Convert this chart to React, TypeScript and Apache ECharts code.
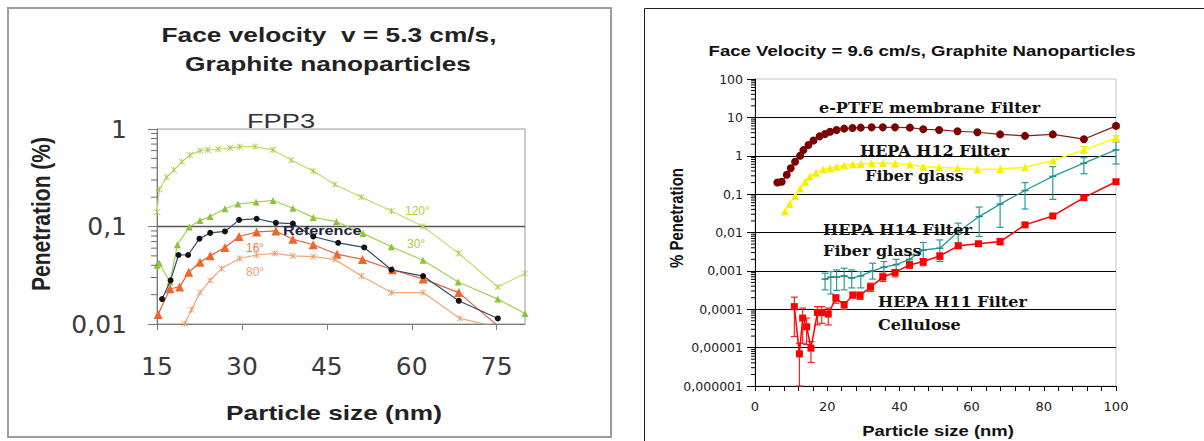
import React, { useEffect, useRef } from "react";
import * as echarts from "echarts";

// ---------- Left chart data (FPP3, 5.3 cm/s) ----------
const deg120Size = [15.0, 15.4, 16.7, 18.0, 19.4, 20.8, 22.6, 24.0, 25.8, 27.9, 29.6, 32.3, 35.5, 38.7, 42.6, 46.4, 51.1, 56.4, 62.0, 68.3, 75.2, 80.0];
const deg120Pen = [0.14, 0.24, 0.32, 0.38, 0.46, 0.54, 0.6, 0.61, 0.62, 0.64, 0.66, 0.66, 0.61, 0.48, 0.37, 0.27, 0.2, 0.144, 0.1, 0.053, 0.024, 0.033];

const deg30Size = [15.0, 15.4, 17.3, 18.6, 20.7, 22.6, 24.4, 27.0, 29.3, 32.5, 35.5, 39.0, 42.6, 46.7, 51.4, 56.4, 62.0, 68.2, 75.2, 80.0];
const deg30Pen = [0.04, 0.042, 0.027, 0.065, 0.099, 0.115, 0.127, 0.152, 0.17, 0.178, 0.185, 0.154, 0.124, 0.112, 0.085, 0.062, 0.045, 0.027, 0.018, 0.0128];

const refSize = [15.9, 17.4, 18.8, 20.5, 22.5, 24.4, 27.0, 29.5, 32.6, 36.0, 39.0, 42.6, 47.0, 51.6, 56.4, 62.0, 68.3, 75.2];
const refPen = [0.018, 0.028, 0.051, 0.051, 0.075, 0.086, 0.089, 0.117, 0.12, 0.109, 0.107, 0.079, 0.068, 0.061, 0.036, 0.031, 0.0173, 0.0114];

const deg16Size = [15.2, 17.3, 19.0, 20.6, 22.6, 24.4, 27.0, 29.5, 32.6, 36.0, 39.0, 42.6, 46.8, 51.3, 56.6, 62.0, 68.3, 75.0];
const deg16Pen = [0.0125, 0.023, 0.024, 0.034, 0.043, 0.05, 0.061, 0.079, 0.088, 0.09, 0.074, 0.065, 0.052, 0.046, 0.036, 0.029, 0.021, 0.0098];

const deg80Size = [19.9, 21.1, 22.6, 24.4, 26.4, 29.6, 32.6, 35.8, 39.0, 42.6, 46.4, 51.1, 56.4, 62.0, 68.5, 74.4];
const deg80Pen = [0.0101, 0.014, 0.021, 0.028, 0.037, 0.047, 0.051, 0.053, 0.05, 0.049, 0.046, 0.031, 0.021, 0.021, 0.0114, 0.0095];

const leftXTicks = { min: 15, max: 80, step: 15 };
const leftYRange = { min: 0.01, max: 1 };
const leftDecades = [0.01, 0.1];

// ---------- Right chart data (9.6 cm/s) ----------
const ptfeSize = [6.2, 7.4, 8.8, 9.9, 11.1, 12.5, 13.4, 14.8, 16.2, 17.9, 19.4, 20.8, 22.6, 24.7, 27.0, 29.3, 32.3, 35.4, 38.8, 42.9, 46.6, 51.0, 56.1, 61.6, 67.9, 74.8, 82.5, 91.1, 100];
const ptfePen = [0.2, 0.21, 0.32, 0.47, 0.7, 1.0, 1.4, 1.9, 2.5, 3.2, 3.7, 4.2, 4.7, 5.1, 5.3, 5.4, 5.5, 5.5, 5.5, 5.4, 4.9, 4.7, 4.35, 4.1, 3.6, 3.3, 3.6, 2.7, 6.0];
const ptfeErrSize = [100];
const ptfeErrLow = [5.3];
const ptfeErrHigh = [6.7];

const h12Size = [8.3, 9.6, 11.1, 12.5, 13.9, 15.2, 16.9, 18.9, 20.8, 22.6, 24.7, 27.1, 29.3, 32.3, 35.4, 38.8, 42.9, 46.6, 51.0, 56.1, 61.6, 67.9, 74.8, 82.5, 91.1, 100];
const h12Pen = [0.035, 0.055, 0.09, 0.14, 0.21, 0.29, 0.36, 0.44, 0.47, 0.52, 0.56, 0.59, 0.61, 0.64, 0.64, 0.63, 0.59, 0.52, 0.5, 0.47, 0.44, 0.45, 0.5, 0.75, 1.42, 2.86];
const h12ErrSize = [91.1, 100];
const h12ErrLow = [1.2, 2.5];
const h12ErrHigh = [1.75, 3.3];

const h14Size = [19.4, 21.0, 22.6, 24.7, 26.8, 29.3, 32.6, 35.7, 39.1, 42.8, 46.6, 51.2, 56.3, 62.1, 67.9, 74.8, 82.5, 91.1, 100];
const h14Pen = [6.1e-4, 6.9e-4, 6.9e-4, 7.4e-4, 6.5e-4, 7.4e-4, 1.0e-3, 1.25e-3, 1.46e-3, 2.0e-3, 3.5e-3, 3.9e-3, 0.0105, 0.026, 0.055, 0.124, 0.29, 0.64, 1.42];
const h14High = [8.7e-4, 9.6e-4, 1.06e-3, 1.17e-3, 1.06e-3, 9.6e-4, 1.58e-3, 1.75e-3, 2.0e-3, 2.6e-3, 5.5e-3, 6.4e-3, 0.0175, 0.046, 0.09, 0.2, 0.52, 0.89, 2.3];
const h14Low = [3.2e-4, 2.5e-4, 3.1e-4, 3.2e-4, 3.6e-4, 3.6e-4, 6.1e-4, 7.9e-4, 9.6e-4, 1.43e-3, 2.0e-3, 1.75e-3, 5.3e-3, 7.9e-3, 0.0137, 0.041, 0.073, 0.34, 0.61];

const h11Size = [10.9, 12.3, 13.2, 14.3, 15.5, 17.3, 18.5, 20.3, 22.4, 24.7, 27.1, 29.1, 32.0, 35.4, 38.8, 42.8, 46.6, 51.2, 56.3, 61.9, 67.9, 74.8, 82.5, 91.1, 100];
const h11Pen = [1.17e-4, 6.9e-6, 5.9e-5, 3.5e-5, 9.7e-6, 8.2e-5, 8.2e-5, 7.5e-5, 1.95e-4, 1.3e-4, 2.37e-4, 2.3e-4, 3.77e-4, 6.9e-4, 9.1e-4, 1.43e-3, 1.75e-3, 2.45e-3, 4.5e-3, 5.1e-3, 5.8e-3, 0.0158, 0.027, 0.081, 0.21];
const h11High = [2.07e-4, 1.3e-5, 1.07e-4, 5.9e-5, 1.44e-5, 1.17e-4, 1.17e-4, 1.07e-4, 2.37e-4, 1.58e-4, 2.72e-4, 2.8e-4, 4.8e-4, 8.7e-4, 1.06e-3, 1.75e-3, 2.1e-3, 2.9e-3, 5.2e-3, 5.8e-3, 7.0e-3, 0.018, 0.03, 0.092, 0.24];
const h11Low = [1.95e-5, 1.0e-6, 1.3e-5, 1.2e-5, 4.1e-6, 3.9e-5, 4.3e-5, 3.9e-5, 1.44e-4, 1.0e-4, 1.95e-4, 1.8e-4, 2.9e-4, 5.3e-4, 7.0e-4, 1.17e-3, 1.37e-3, 2.0e-3, 3.9e-3, 4.5e-3, 4.8e-3, 0.014, 0.024, 0.071, 0.185];

const rightXTicks = { min: 0, max: 100, step: 20 };
const rightYRange = { min: 1e-6, max: 100 };
const rightDecades = [1e-6, 1e-5, 1e-4, 1e-3, 1e-2, 1e-1, 1, 10];
const minorMultipliers = [2, 3, 4, 5, 6, 7, 8, 9];

// ---------- helpers ----------
const zip = (xs: number[], ys: number[]) => xs.map((x, i) => [x, ys[i]]);
const zip3 = (xs: number[], lo: number[], hi: number[]) => xs.map((x, i) => [x, lo[i], hi[i]]);
const minorTicks = (decades: number[], xAt: number) => {
  const out: number[][] = [];
  decades.forEach((d) => minorMultipliers.forEach((m) => out.push([xAt, +(d * m).toPrecision(3)])));
  return out;
};
const fmtComma = (v: number) => {
  if (v >= 1) return String(Math.round(v));
  const d = Math.round(-Math.log10(v));
  return v.toFixed(d).replace(".", ",");
};

const errorBar = (color: string) => (params: any, api: any) => {
  const x = api.value(0);
  const lo = api.value(1);
  const hi = api.value(2);
  const pHi = api.coord([x, hi]);
  const pLo = api.coord([x, lo]);
  const w = 3.5;
  const st = { stroke: color, lineWidth: 1.2 };
  return {
    type: "group",
    children: [
      { type: "line", shape: { x1: pHi[0], y1: pHi[1], x2: pLo[0], y2: pLo[1] }, style: st },
      { type: "line", shape: { x1: pHi[0] - w, y1: pHi[1], x2: pHi[0] + w, y2: pHi[1] }, style: st },
      { type: "line", shape: { x1: pLo[0] - w, y1: pLo[1], x2: pLo[0] + w, y2: pLo[1] }, style: st },
    ],
  };
};

const CROSS = "path://M0,0L10,10M10,0L0,10M5,0L5,10";
const SANS = "Arial, 'Liberation Sans', sans-serif";
const WIDE = "'DejaVu Sans', Arial, sans-serif";

export default function App() {
  const ref = useRef<HTMLDivElement>(null);
  useEffect(() => {
    if (!ref.current) return;
    const chart = echarts.init(ref.current, null, { renderer: "svg" });
    const serif = "'DejaVu Serif', 'Liberation Serif', serif";
    const annot = (text: string, x: number, y: number) => ({
      type: "text",
      x,
      y,
      scaleX: 1.07,
      style: { text, font: `bold 15px ${serif}`, fill: "#111", textVerticalAlign: "middle" },
      z: 50,
    });
    const smallLbl = (text: string, x: number, y: number, color: string, bold = false, size = 12, sx = 1) => ({
      type: "text",
      x,
      y,
      scaleX: sx,
      style: { text, font: `${bold ? "bold " : ""}${size}px ${SANS}`, fill: color, textVerticalAlign: "middle" },
      z: 50,
    });
    const title = (text: string, x: number, y: number, size: number, sx: number, color = "#222", weight = "bold") => ({
      type: "text",
      x,
      y,
      scaleX: sx,
      style: { text, font: `${weight} ${size}px ${SANS}`, fill: color, textAlign: "center", textVerticalAlign: "middle" },
      z: 40,
    });
    const tickSeries = (name: string, gi: number, data: number[][], len: number, color: string) => ({
      name,
      type: "scatter",
      xAxisIndex: gi,
      yAxisIndex: gi,
      data,
      symbol: "rect",
      symbolSize: [len, 1],
      symbolOffset: [-len / 2, 0],
      itemStyle: { color, opacity: 1 },
      clip: false,
      silent: true,
      z: 10,
    });
    const option: any = {
      animation: false,
      backgroundColor: "#ffffff",
      grid: [
        { left: 157, top: 129, width: 368, height: 195, show: true, borderColor: "#9a9a9a", borderWidth: 1, backgroundColor: "transparent" },
        { left: 755, top: 79, width: 361, height: 307, show: true, borderColor: "#c4c4c4", borderWidth: 1, backgroundColor: "transparent" },
      ],
      xAxis: [
        {
          gridIndex: 0,
          type: "value",
          min: leftXTicks.min,
          max: leftXTicks.max,
          interval: leftXTicks.step,
          axisLine: { show: true, lineStyle: { color: "#7a7a7a", width: 1 } },
          axisTick: { show: true, length: 6, lineStyle: { color: "#7a7a7a" } },
          splitLine: { show: false },
          axisLabel: { fontSize: 25, color: "#3a3a3a", margin: 30, fontFamily: WIDE, showMaxLabel: false },
        },
        {
          gridIndex: 1,
          type: "value",
          min: rightXTicks.min,
          max: rightXTicks.max,
          interval: rightXTicks.step,
          axisLine: { show: true, lineStyle: { color: "#000", width: 1 } },
          axisTick: { show: true, length: 5, lineStyle: { color: "#000" } },
          minorTick: { show: true, splitNumber: 5, length: 5, lineStyle: { color: "#000" } },
          splitLine: { show: false },
          axisLabel: { fontSize: 13, color: "#222", margin: 14, fontFamily: WIDE },
        },
      ],
      yAxis: [
        {
          gridIndex: 0,
          type: "log",
          logBase: 10,
          min: leftYRange.min,
          max: leftYRange.max,
          axisLine: { show: true, lineStyle: { color: "#7a7a7a", width: 1 } },
          axisTick: { show: true, length: 9, lineStyle: { color: "#7a7a7a" } },
          splitLine: { show: true, showMinLine: false, showMaxLine: false, lineStyle: { color: "#555", width: 1.3 } },
          axisLabel: { fontSize: 25, color: "#3a3a3a", margin: 30, formatter: fmtComma, fontFamily: WIDE },
        },
        {
          gridIndex: 1,
          type: "log",
          logBase: 10,
          min: rightYRange.min,
          max: rightYRange.max,
          axisLine: { show: true, lineStyle: { color: "#000", width: 1 } },
          axisTick: { show: true, length: 8, lineStyle: { color: "#000" } },
          splitLine: { show: true, showMinLine: false, showMaxLine: false, lineStyle: { color: "#000", width: 1 } },
          axisLabel: { fontSize: 12.5, color: "#222", margin: 12, formatter: fmtComma, fontFamily: WIDE },
        },
      ],
      series: [
        // ---- log minor ticks ----
        tickSeries("left minor ticks", 0, minorTicks(leftDecades, leftXTicks.min), 6, "#6a6a6a"),
        tickSeries("right minor ticks", 1, minorTicks(rightDecades, rightXTicks.min), 4, "#000"),
        // ---- left chart ----
        { name: "120°", type: "line", xAxisIndex: 0, yAxisIndex: 0, data: zip(deg120Size, deg120Pen), symbol: CROSS, symbolSize: 6,
          lineStyle: { color: "#c2dc6c", width: 1.2 }, itemStyle: { color: "none", borderColor: "#a8cc45", borderWidth: 1 }, z: 3 },
        { name: "30°", type: "line", xAxisIndex: 0, yAxisIndex: 0, data: zip(deg30Size, deg30Pen), symbol: "triangle", symbolSize: 7,
          lineStyle: { color: "#a6cf52", width: 1.2 }, itemStyle: { color: "#8cc23c" }, z: 3 },
        { name: "Reference", type: "line", xAxisIndex: 0, yAxisIndex: 0, data: zip(refSize, refPen), symbol: "circle", symbolSize: 6,
          lineStyle: { color: "#2d4d72", width: 1.2 }, itemStyle: { color: "#111" }, z: 4 },
        { name: "16°", type: "line", xAxisIndex: 0, yAxisIndex: 0, data: zip(deg16Size, deg16Pen), symbol: "triangle", symbolSize: 9,
          lineStyle: { color: "#e8603a", width: 1.2 }, itemStyle: { color: "#f0662a" }, z: 3 },
        { name: "80°", type: "line", xAxisIndex: 0, yAxisIndex: 0, data: zip(deg80Size, deg80Pen), symbol: CROSS, symbolSize: 6,
          lineStyle: { color: "#f0a77a", width: 1.2 }, itemStyle: { color: "none", borderColor: "#ee9a66", borderWidth: 1 }, z: 3 },
        // ---- right chart ----
        { name: "e-PTFE", type: "line", xAxisIndex: 1, yAxisIndex: 1, data: zip(ptfeSize, ptfePen), symbol: "circle", symbolSize: 8,
          lineStyle: { color: "#8b1a1a", width: 1.2 }, itemStyle: { color: "#7a0000" }, z: 5 },
        { name: "e-PTFE err", type: "custom", xAxisIndex: 1, yAxisIndex: 1, data: zip3(ptfeErrSize, ptfeErrLow, ptfeErrHigh),
          renderItem: errorBar("#8b1a1a"), encode: { x: 0, y: [1, 2] }, z: 5 },
        { name: "HEPA H12", type: "line", xAxisIndex: 1, yAxisIndex: 1, data: zip(h12Size, h12Pen), symbol: "triangle", symbolSize: 8,
          lineStyle: { color: "#ffff00", width: 1.5 }, itemStyle: { color: "#f5f000" }, z: 5 },
        { name: "HEPA H12 err", type: "custom", xAxisIndex: 1, yAxisIndex: 1, data: zip3(h12ErrSize, h12ErrLow, h12ErrHigh),
          renderItem: errorBar("#e8e000"), encode: { x: 0, y: [1, 2] }, z: 5 },
        { name: "HEPA H14", type: "line", xAxisIndex: 1, yAxisIndex: 1, data: zip(h14Size, h14Pen), symbol: "rect", symbolSize: [7, 1.5],
          lineStyle: { color: "#2a9a9a", width: 1.3 }, itemStyle: { color: "#1f8c8c" }, z: 5 },
        { name: "HEPA H14 err", type: "custom", xAxisIndex: 1, yAxisIndex: 1, data: zip3(h14Size, h14Low, h14High),
          renderItem: errorBar("#2a9a9a"), encode: { x: 0, y: [1, 2] }, z: 5 },
        { name: "HEPA H11", type: "line", xAxisIndex: 1, yAxisIndex: 1, data: zip(h11Size, h11Pen), symbol: "rect", symbolSize: 7,
          lineStyle: { color: "#ff0000", width: 1.5 }, itemStyle: { color: "#ff0000" }, z: 6 },
        { name: "HEPA H11 err", type: "custom", xAxisIndex: 1, yAxisIndex: 1, data: zip3(h11Size, h11Low, h11High),
          renderItem: errorBar("#ff2020"), encode: { x: 0, y: [1, 2] }, z: 6 },
      ],
      graphic: [
        // panel frames
        { type: "rect", shape: { x: 8, y: 8, width: 603, height: 429 }, style: { fill: "none", stroke: "#9c9c9c", lineWidth: 2 }, z: 1 },
        { type: "rect", shape: { x: 644.5, y: 8.5, width: 600, height: 500 }, style: { fill: "none", stroke: "#222", lineWidth: 1 }, z: 1 },
        // left titles
        title("Face velocity  v = 5.3 cm/s,", 329, 34, 21, 1.25),
        title("Graphite nanoparticles", 328, 63, 21, 1.25),
        title("FPP3", 281, 121, 21, 1.3, "#333", "normal"),
        { type: "text", x: 41, y: 214, rotation: Math.PI / 2, scaleY: 1.2, style: { text: "Penetration (%)", font: `bold 21px ${SANS}`, fill: "#222", textAlign: "center", textVerticalAlign: "middle" }, z: 40 },
        title("Particle size (nm)", 334, 412, 21, 1.25),
        smallLbl("120°", 405, 211, "#b3d23c"),
        smallLbl("30°", 407, 244, "#a8cc3c"),
        smallLbl("Reference", 283, 231, "#1c2340", true, 13, 1.25),
        smallLbl("16°", 246, 248, "#f07a3a"),
        smallLbl("80°", 246, 272, "#f2a070"),
        // right titles
        title("Face Velocity = 9.6 cm/s, Graphite Nanoparticles", 922, 51, 15, 1.24, "#111"),
        { type: "text", x: 677, y: 218, rotation: Math.PI / 2, scaleY: 1.2, style: { text: "% Penetration", font: `bold 15px ${SANS}`, fill: "#111", textAlign: "center", textVerticalAlign: "middle" }, z: 40 },
        title("Particle size (nm)", 938, 431, 15, 1.23, "#111"),
        annot("e-PTFE membrane Filter", 819, 108),
        annot("HEPA H12 Filter", 860, 151),
        annot("Fiber glass", 865, 176),
        annot("HEPA H14 Filter", 823, 230),
        annot("Fiber glass", 823, 251),
        annot("HEPA H11 Filter", 878, 302),
        annot("Cellulose", 878, 325),
      ],
    };
    chart.setOption(option);
    return () => chart.dispose();
  }, []);
  return <div ref={ref} style={{ position: "absolute", left: 0, top: 0, width: 1204, height: 441 }} />;
}
